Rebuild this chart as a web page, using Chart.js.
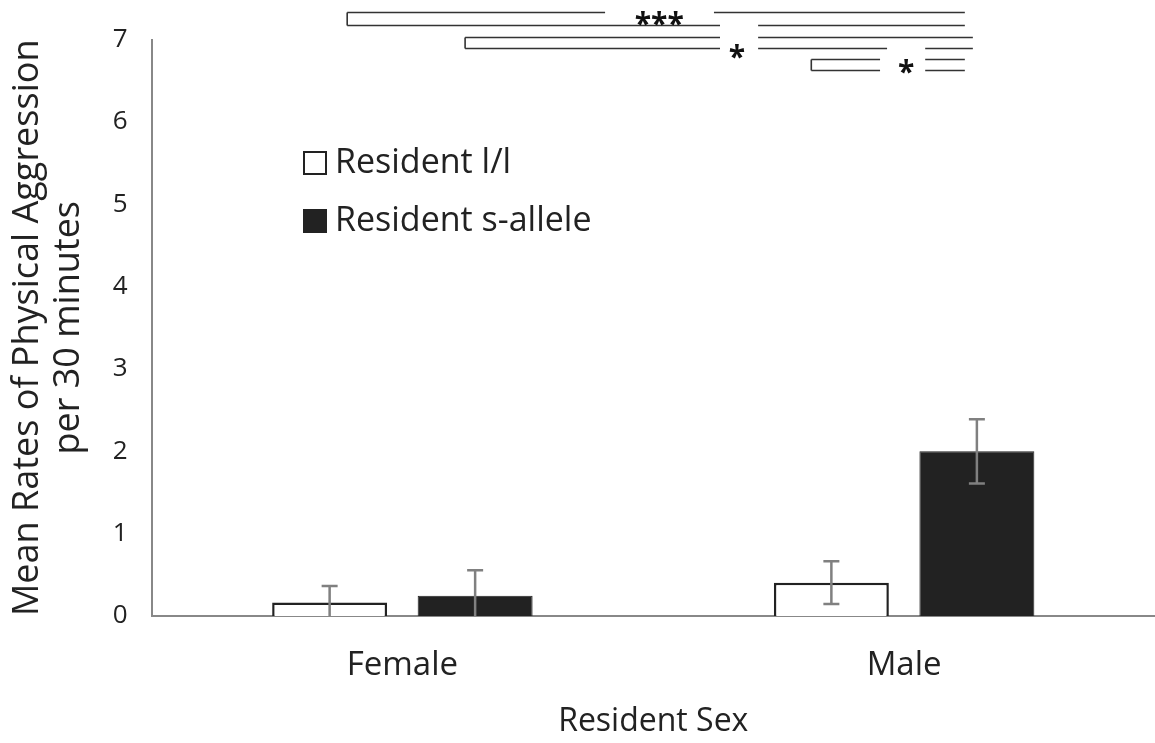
<!DOCTYPE html>
<html>
<head>
<meta charset="utf-8">
<script src="https://cdn.jsdelivr.net/npm/chart.js@4.4.1/dist/chart.umd.min.js"></script>
<style>
  html, body { margin: 0; padding: 0; background: #fff; }
  #wrap { width: 1155px; height: 743px; position: relative; }
</style>
</head>
<body>
<div id="wrap"><canvas id="chart"></canvas></div>
<script>
const categories = ['Female', 'Male'];
const seriesNames = ['Resident l/l', 'Resident s-allele'];
const llMeans = [0.165, 0.405];
const sMeans = [0.245, 2.0];
const llErr = [0.2, 0.26];
const sErr = [0.31, 0.39];
const yTicks = [0, 1, 2, 3, 4, 5, 6, 7];

// significance brackets: lines in (category units, y units), plus star label
const brackets = [
    { label: '***', star: [0.512, 7.25], lines: [
        [[-0.110, 0.404], 7.333], [[0.621, 1.121], 7.333],
        [[-0.110, 0.633], 7.18], [[0.709, 1.121], 7.18]
    ], left: [-0.110, 7.333, 7.18] },
    { label: '*', star: [0.667, 6.84], lines: [
        [[0.125, 0.633], 7.03], [[0.709, 1.137], 7.03],
        [[0.125, 0.633], 6.897], [[0.709, 0.966], 6.897], [[1.042, 1.137], 6.897]
    ], left: [0.125, 7.03, 6.897] },
    { label: '*', star: [1.004, 6.66], lines: [
        [[0.815, 0.952], 6.76], [[1.042, 1.121], 6.76],
        [[0.815, 0.952], 6.63], [[1.042, 1.121], 6.63]
    ], left: [0.815, 6.76, 6.63] }
];

const FONT = "'Open Sans', 'Noto Sans', sans-serif";

const extrasPlugin = {
    id: 'extras',
    afterDatasetsDraw(chart) {
        const ctx = chart.ctx;
        const x = chart.scales.x, y = chart.scales.y;
        const errs = [llErr, sErr];

        // error bars
        ctx.save();
        ctx.beginPath();
        ctx.rect(0, 0, chart.width, y.getPixelForValue(0));
        ctx.clip();
        ctx.strokeStyle = '#808080';
        ctx.lineWidth = 2.5;
        chart.data.datasets.forEach((ds, di) => {
            chart.getDatasetMeta(di).data.forEach((bar, i) => {
                const v = ds.data[i], e = errs[di][i];
                const top = y.getPixelForValue(v + e);
                const bot = y.getPixelForValue(v - e);
                ctx.beginPath();
                ctx.moveTo(bar.x, top); ctx.lineTo(bar.x, bot);
                ctx.moveTo(bar.x - 8, top); ctx.lineTo(bar.x + 8, top);
                ctx.moveTo(bar.x - 8, bot); ctx.lineTo(bar.x + 8, bot);
                ctx.stroke();
            });
        });
        ctx.restore();

        // brackets
        ctx.save();
        ctx.strokeStyle = '#333';
        ctx.lineWidth = 1.6;
        brackets.forEach(b => {
            ctx.beginPath();
            b.lines.forEach(([[a, c], v]) => {
                const py = Math.round(y.getPixelForValue(v)) + 0.5;
                ctx.moveTo(x.getPixelForValue(a), py);
                ctx.lineTo(x.getPixelForValue(c), py);
            });
            const lx = x.getPixelForValue(b.left[0]);
            ctx.moveTo(lx, Math.round(y.getPixelForValue(b.left[1])) + 0.5);
            ctx.lineTo(lx, Math.round(y.getPixelForValue(b.left[2])) + 0.5);
            ctx.stroke();
            ctx.fillStyle = '#111';
            ctx.font = "bold 30px " + FONT;
            ctx.textAlign = 'center';
            ctx.textBaseline = 'middle';
            ctx.fillText(b.label, x.getPixelForValue(b.star[0]), y.getPixelForValue(b.star[1]) + 6);
        });
        ctx.restore();

        // legend
        ctx.save();
        ctx.font = "34px " + FONT;
        ctx.textBaseline = 'middle';
        ctx.textAlign = 'left';
        chart.data.datasets.forEach((ds, di) => {
            const cy = 162 + di * 58;
            ctx.fillStyle = ds.backgroundColor;
            ctx.strokeStyle = '#222';
            ctx.lineWidth = 2;
            ctx.fillRect(304, cy - 10, 22, 22);
            ctx.strokeRect(304, cy - 10, 22, 22);
            ctx.fillStyle = '#222';
            ctx.fillText(ds.label, 335, cy + 1);
        });
        ctx.restore();
    }
};

new Chart(document.getElementById('chart'), {
    type: 'bar',
    data: {
        labels: categories,
        datasets: [
            { label: seriesNames[0], data: llMeans, backgroundColor: '#ffffff', borderColor: '#222', borderWidth: 2.5 },
            { label: seriesNames[1], data: sMeans, backgroundColor: '#222222', borderColor: '#222', borderWidth: 1 }
        ]
    },
    options: {
        responsive: true,
        maintainAspectRatio: false,
        animation: false,
        categoryPercentage: 0.58,
        barPercentage: 0.79,
        layout: { padding: { top: 27, right: 0, left: 8, bottom: 2 } },
        plugins: { legend: { display: false }, tooltip: { enabled: false } },
        scales: {
            x: {
                grid: { display: false, drawTicks: false },
                border: { color: '#888', width: 2 },
                ticks: { color: '#222', font: { family: FONT, size: 33 }, padding: 30 },
                title: { display: true, text: 'Resident Sex', color: '#222', font: { family: FONT, size: 32 }, padding: { top: -13, bottom: 0 } }
            },
            y: {
                min: 0, max: 7,
                afterBuildTicks: (s) => { s.ticks = yTicks.map(v => ({ value: v })); },
                grid: { display: false, drawTicks: false },
                border: { color: '#888', width: 2 },
                ticks: { color: '#222', font: { family: FONT, size: 26 }, padding: 24 },
                title: { display: true, text: ['Mean Rates of Physical Aggression', 'per 30 minutes'], color: '#222', font: { family: FONT, size: 36, lineHeight: 1.12 }, padding: { top: 0, bottom: 0 } }
            }
        }
    },
    plugins: [extrasPlugin]
});
</script>
</body>
</html>
